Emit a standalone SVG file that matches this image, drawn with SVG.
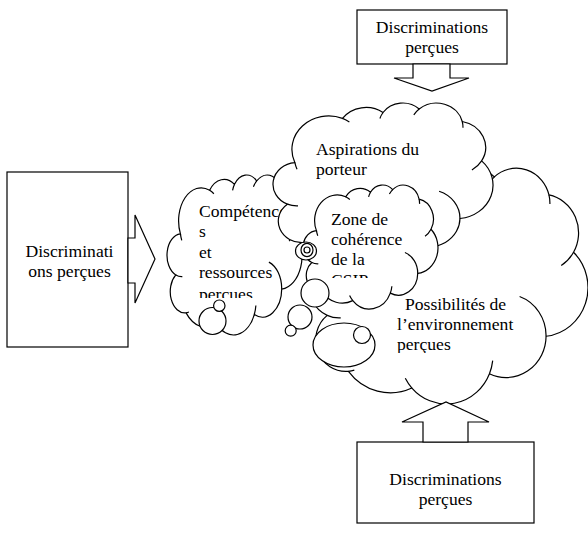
<svg xmlns="http://www.w3.org/2000/svg" xmlns:xlink="http://www.w3.org/1999/xlink" width="588" height="540" viewBox="0 0 588 540">
<style>
.ln{fill:#fff;stroke:#000;stroke-width:1.2}
.co{fill:#fff;stroke:#000;stroke-width:1.2;vector-effect:non-scaling-stroke}
.cu{fill:none;stroke:#000;stroke-width:1.2;vector-effect:non-scaling-stroke}
text{font-family:'Liberation Serif','Times New Roman','DejaVu Serif',serif;font-size:17.6px;fill:#000}
.m{text-anchor:middle}
</style>
<defs>
<g id="cloud">
<path class="co" d="M4470,16394 A6753,9190 0 0 1 13210,4255 A5333,7267 0 0 1 20653,2626 A4365,5945 0 0 1 27290,1684 A4857,6595 0 0 1 35194,5094 A5333,7273 0 0 1 38753,15898 A6775,9220 0 0 1 34777,31729 A5785,7867 0 0 1 26578,38793 A6752,9215 0 0 1 15350,41485 A7720,10543 0 0 1 6159,38334 A4360,5918 0 0 1 3087,27787 A4345,5945 0 0 1 4470,16394 Z"/>
<path class="cu" d="M5044,28258 A4345,5945 0 0 1 3087,27787 M7014,38116 A4360,5918 0 0 1 6159,38334 M15350,41485 A6752,9215 0 0 1 14393,39643 M27047,36309 A6752,9215 0 0 1 26578,38793 M30943,24237 A5785,7867 0 0 1 34777,31729 M38753,15898 A5333,7273 0 0 1 36970,18399 M35194,5094 A4857,6595 0 0 1 35332,6788 M26304,3283 A4857,6595 0 0 1 27290,1684 M20079,4277 A4365,5945 0 0 1 20653,2626 M13210,4255 A6753,9190 0 0 1 14472,5226 M4864,18216 A6753,9190 0 0 1 4470,16394"/>
</g>
<clipPath id="clipComp"><rect x="160" y="170" width="140" height="128"/></clipPath>
<clipPath id="clipZone"><rect x="300" y="180" width="140" height="98"/></clipPath>
<clipPath id="clipPoss"><rect x="380" y="280" width="200" height="73"/></clipPath>
</defs>

<g id="box-left">
<rect class="ln" x="7" y="172" width="121" height="175"/>
<text class="m" x="69.5" y="257">Discriminati</text>
<text class="m" x="69.5" y="277">ons perçues</text>
</g>

<g id="box-top">
<rect class="ln" x="357" y="10" width="150" height="54"/>
<text class="m" x="432" y="33">Discriminations</text>
<text class="m" x="432" y="53">perçues</text>
</g>

<g id="box-bottom">
<rect class="ln" x="357" y="442" width="177" height="81"/>
<text class="m" x="445.5" y="485">Discriminations</text>
<text class="m" x="445.5" y="505">perçues</text>
</g>

<g id="cloud-possibilites">
<use xlink:href="#cloud" transform="translate(309,168) scale(0.006907,0.005307) translate(-452,-22)"/>
<ellipse class="ln" cx="344" cy="345" rx="31" ry="22"/>
<circle class="ln" cx="362" cy="335" r="8.5"/>
<g clip-path="url(#clipPoss)">
<text x="405" y="310">Possibilités de</text>
<text x="397" y="330">l’environnement</text>
<text x="397" y="350">perçues</text>
</g>
</g>

<g id="cloud-competences">
<use xlink:href="#cloud" transform="translate(167,175) scale(0.003342,0.003598) translate(-452,-22)"/>
<circle class="ln" cx="212.5" cy="321" r="13.5"/>
<circle class="ln" cx="219.3" cy="305.7" r="5.7"/>
<g clip-path="url(#clipComp)">
<text x="199" y="217">Compétence</text>
<text x="199" y="237">s</text>
<text x="199" y="258">et</text>
<text x="199" y="278">ressources</text>
<text x="199" y="300">perçues</text>
</g>
</g>

<g id="cloud-aspirations">
<use xlink:href="#cloud" transform="translate(273,103) scale(0.005447,0.003643) translate(-452,-22)"/>
<text x="316" y="155">Aspirations du</text>
<text x="316" y="175">porteur</text>
</g>

<g id="cloud-zone">
<use xlink:href="#cloud" transform="translate(303,185) scale(0.003342,0.002789) translate(-452,-22)"/>
<circle class="ln" cx="315" cy="293" r="14"/>
<circle class="ln" cx="300" cy="317" r="12"/>
<circle class="ln" cx="290.7" cy="330.7" r="5.5"/>
<ellipse class="ln" cx="306" cy="251" rx="10.5" ry="9"/>
<ellipse class="ln" cx="307" cy="250" rx="6" ry="6.7"/>
<circle class="ln" cx="307" cy="250" r="3"/>
<g clip-path="url(#clipZone)">
<text x="331" y="225">Zone de</text>
<text x="331" y="245">cohérence</text>
<text x="331" y="265">de la</text>
<text x="331" y="286">CSIP</text>
</g>
</g>

<g id="connectors">
<polygon class="ln" points="128,238 135,238 135,215 155,259 135,303 135,283 128,283"/>
<polygon class="ln" points="413,64 450,64 450,78 469,78 432,91 394,78 413,78"/>
<polygon class="ln" points="423,442 468,442 468,422 489,422 446,402 402,422 423,422"/>
</g>
</svg>
